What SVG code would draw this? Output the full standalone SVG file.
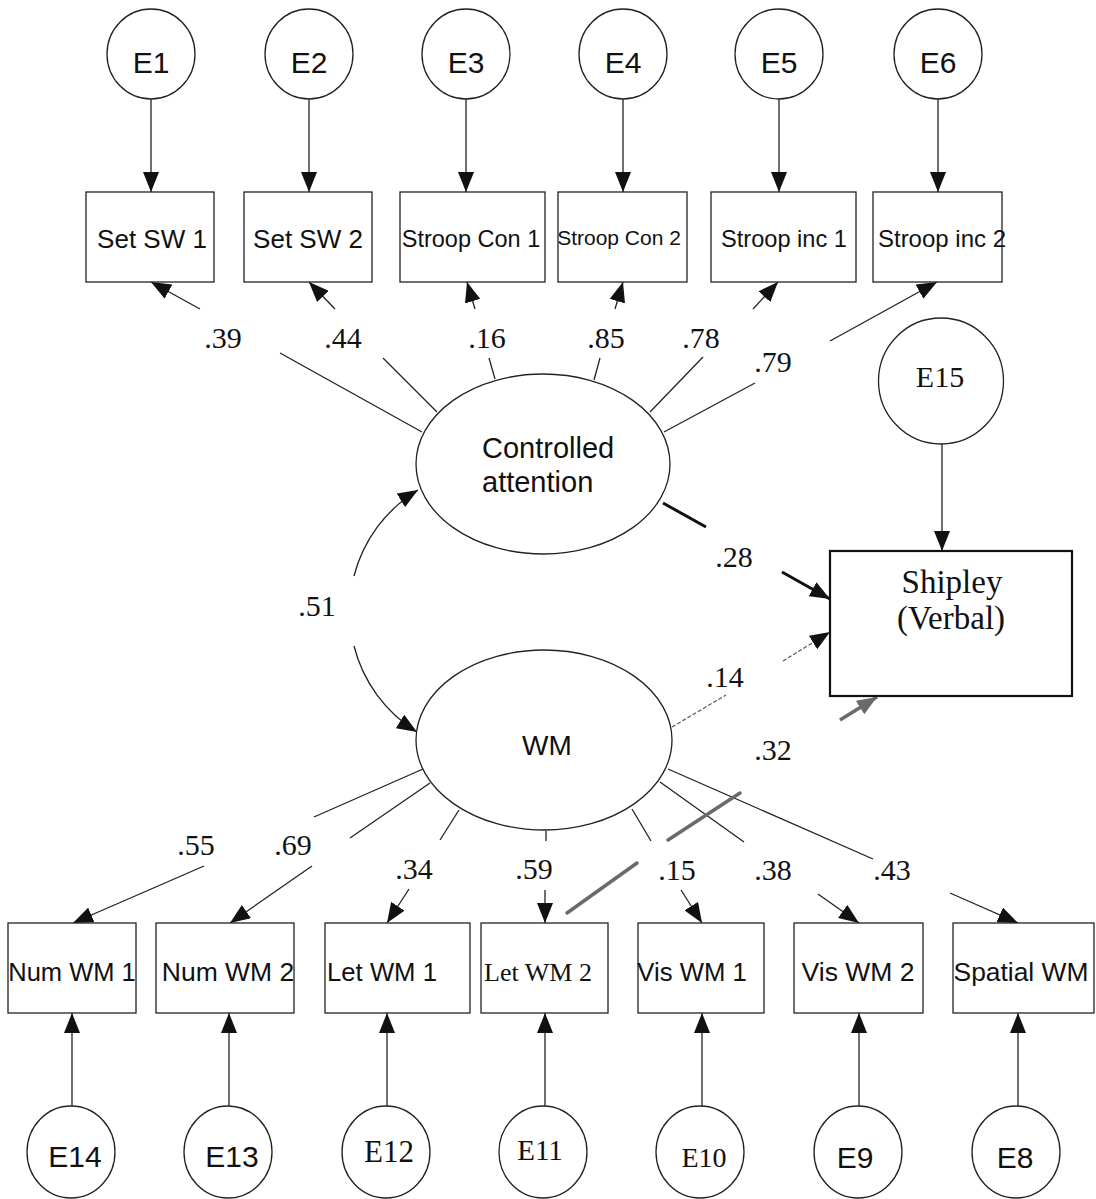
<svg xmlns="http://www.w3.org/2000/svg" width="1096" height="1199" viewBox="0 0 1096 1199">
  <style>
    .node { fill: #ffffff; stroke: #222; stroke-width: 1.3; }
    .thick { fill: #ffffff; stroke: #111; stroke-width: 2.2; }
    .ln { fill: none; stroke: #222; stroke-width: 1.3; }
    .arr { fill: none; stroke: #222; stroke-width: 1.3; marker-end: url(#ah); }
    .bold { fill: none; stroke: #111; stroke-width: 3; }
    .boldarr { fill: none; stroke: #111; stroke-width: 3; marker-end: url(#ah); }
    .dash { fill: none; stroke: #555; stroke-width: 1.2; stroke-dasharray: 4 2; }
    .dasharr { fill: none; stroke: #555; stroke-width: 1.2; stroke-dasharray: 4 2; marker-end: url(#ah); }
    .grey { fill: none; stroke: #6a6a6a; stroke-width: 3.5; stroke-linecap: round; }
    .greyarr { fill: none; stroke: #6a6a6a; stroke-width: 3.5; marker-end: url(#ahg); }
    .sans { font-family: "Liberation Sans", Arial, sans-serif; fill: #111; }
    .serif { font-family: "Liberation Serif", "Times New Roman", serif; fill: #111; }
    .mid { text-anchor: middle; }
    .lab { font-family: "Liberation Serif", "Times New Roman", serif; font-size: 30px; fill: #111; text-anchor: middle; }
  </style>
  <defs>
    <marker id="ah" markerUnits="userSpaceOnUse" markerWidth="20" markerHeight="16" viewBox="0 0 20 16" refX="20" refY="8" orient="auto">
      <path d="M0,0 L20,8 L0,16 Z" fill="#111"/>
    </marker>
    <marker id="ahg" markerUnits="userSpaceOnUse" markerWidth="20" markerHeight="16" viewBox="0 0 20 16" refX="20" refY="8" orient="auto">
      <path d="M0,0 L20,8 L0,16 Z" fill="#6a6a6a"/>
    </marker>
  </defs>

  <rect x="0" y="0" width="1096" height="1199" fill="#ffffff"/>

  <!-- connectors -->
  <g id="connectors">
    <!-- error terms to top indicators -->
    <line class="arr" x1="151" y1="99" x2="151" y2="192"/>
    <line class="arr" x1="309" y1="99" x2="309" y2="192"/>
    <line class="arr" x1="466" y1="99" x2="466" y2="192"/>
    <line class="arr" x1="623" y1="99" x2="623" y2="192"/>
    <line class="arr" x1="779" y1="99" x2="779" y2="192"/>
    <line class="arr" x1="938" y1="99" x2="938" y2="192"/>

    <!-- controlled attention loadings -->
    <line class="ln" x1="422" y1="432" x2="280" y2="353"/>
    <line class="arr" x1="200" y1="309" x2="151" y2="282"/>
    <line class="ln" x1="437" y1="412" x2="383" y2="358"/>
    <line class="arr" x1="335" y1="309" x2="309" y2="282"/>
    <line class="ln" x1="495" y1="379" x2="489" y2="358"/>
    <line class="arr" x1="475" y1="309" x2="467" y2="282"/>
    <line class="ln" x1="594" y1="380" x2="600" y2="358"/>
    <line class="arr" x1="615" y1="309" x2="623" y2="282"/>
    <line class="ln" x1="650" y1="412" x2="703" y2="357"/>
    <line class="arr" x1="753" y1="309" x2="778" y2="282"/>
    <line class="ln" x1="664" y1="432" x2="755" y2="383"/>
    <line class="arr" x1="830" y1="341" x2="937" y2="282"/>

    <!-- covariance between factors -->
    <path class="arr" d="M354,576 A142,142 0 0 1 418,490"/>
    <path class="arr" d="M354,646 A142,142 0 0 0 417,732"/>

    <!-- structural paths to Shipley -->
    <line class="bold" x1="663" y1="503" x2="706" y2="527"/>
    <line class="boldarr" x1="782" y1="572" x2="830" y2="599"/>
    <line class="dash" x1="672" y1="727" x2="726" y2="695"/>
    <line class="dasharr" x1="783" y1="661" x2="830" y2="632"/>
    <line class="greyarr" x1="840" y1="720" x2="877" y2="697"/>
    <line class="arr" x1="942" y1="444" x2="942" y2="551"/>

    <!-- WM loadings -->
    <line class="ln" x1="423" y1="769" x2="314" y2="817"/>
    <line class="arr" x1="204" y1="866" x2="73" y2="923"/>
    <line class="ln" x1="430" y1="783" x2="350" y2="838"/>
    <line class="arr" x1="312" y1="866" x2="230" y2="923"/>
    <line class="ln" x1="459" y1="810" x2="440" y2="840"/>
    <line class="arr" x1="409" y1="889" x2="387" y2="923"/>
    <line class="ln" x1="546" y1="831" x2="546" y2="841"/>
    <line class="arr" x1="545" y1="890" x2="545" y2="923"/>
    <line class="ln" x1="632" y1="809" x2="651" y2="841"/>
    <line class="arr" x1="681" y1="890" x2="702" y2="923"/>
    <line class="ln" x1="660" y1="782" x2="744" y2="842"/>
    <line class="arr" x1="818" y1="894" x2="859" y2="923"/>
    <line class="ln" x1="668" y1="769" x2="873" y2="859"/>
    <line class="arr" x1="950" y1="893" x2="1018" y2="923"/>

    <!-- grey strokes across the WM loadings -->
    <line class="grey" x1="668" y1="840" x2="740" y2="793"/>
    <line class="grey" x1="567" y1="913" x2="637" y2="863"/>

    <!-- error terms to bottom indicators -->
    <line class="arr" x1="72" y1="1106" x2="72" y2="1013"/>
    <line class="arr" x1="229" y1="1106" x2="229" y2="1013"/>
    <line class="arr" x1="387" y1="1106" x2="387" y2="1013"/>
    <line class="arr" x1="545" y1="1106" x2="545" y2="1013"/>
    <line class="arr" x1="702" y1="1106" x2="702" y2="1013"/>
    <line class="arr" x1="859" y1="1106" x2="859" y2="1013"/>
    <line class="arr" x1="1018" y1="1106" x2="1018" y2="1013"/>
  </g>

  <!-- path coefficients -->
  <g id="coefficients">
    <text class="lab" x="223" y="348">.39</text>
    <text class="lab" x="343" y="348">.44</text>
    <text class="lab" x="487" y="348">.16</text>
    <text class="lab" x="606" y="348">.85</text>
    <text class="lab" x="701" y="348">.78</text>
    <text class="lab" x="773" y="372">.79</text>
    <text class="lab" x="317" y="616">.51</text>
    <text class="lab" x="734" y="567">.28</text>
    <text class="lab" x="725" y="687">.14</text>
    <text class="lab" x="773" y="760" fill="#333">.32</text>
    <text class="lab" x="196" y="855">.55</text>
    <text class="lab" x="293" y="855">.69</text>
    <text class="lab" x="414" y="879">.34</text>
    <text class="lab" x="534" y="879">.59</text>
    <text class="lab" x="677" y="880">.15</text>
    <text class="lab" x="773" y="880">.38</text>
    <text class="lab" x="892" y="880">.43</text>
  </g>

  <!-- top error terms -->
  <g id="E1"><ellipse class="node" cx="151" cy="54" rx="44" ry="45"/><text class="sans mid" x="151" y="73" font-size="30">E1</text></g>
  <g id="E2"><ellipse class="node" cx="309" cy="54" rx="44" ry="45"/><text class="sans mid" x="309" y="73" font-size="30">E2</text></g>
  <g id="E3"><ellipse class="node" cx="466" cy="54" rx="44" ry="45"/><text class="sans mid" x="466" y="73" font-size="30">E3</text></g>
  <g id="E4"><ellipse class="node" cx="623" cy="54" rx="44" ry="45"/><text class="sans mid" x="623" y="73" font-size="30">E4</text></g>
  <g id="E5"><ellipse class="node" cx="779" cy="54" rx="44" ry="45"/><text class="sans mid" x="779" y="73" font-size="30">E5</text></g>
  <g id="E6"><ellipse class="node" cx="938" cy="54" rx="44" ry="45"/><text class="sans mid" x="938" y="73" font-size="30">E6</text></g>

  <!-- top indicators -->
  <g id="SetSW1"><rect class="node" x="86" y="192" width="128" height="90"/><text class="sans mid" x="152" y="248" font-size="26">Set SW 1</text></g>
  <g id="SetSW2"><rect class="node" x="244" y="192" width="128" height="90"/><text class="sans mid" x="308" y="248" font-size="26">Set SW 2</text></g>
  <g id="StroopCon1"><rect class="node" x="400" y="192" width="145" height="90"/><text class="sans mid" x="471" y="247" font-size="23.5">Stroop Con 1</text></g>
  <g id="StroopCon2"><rect class="node" x="558" y="192" width="129" height="90"/><text class="sans mid" x="619" y="245" font-size="21">Stroop Con 2</text></g>
  <g id="StroopInc1"><rect class="node" x="711" y="192" width="145" height="90"/><text class="sans mid" x="784" y="247" font-size="23.6">Stroop inc 1</text></g>
  <g id="StroopInc2"><rect class="node" x="873" y="192" width="129" height="90"/><text class="sans mid" x="942" y="247" font-size="24">Stroop inc 2</text></g>

  <!-- latent factors -->
  <g id="ControlledAttention">
    <ellipse class="node" cx="543" cy="464" rx="127" ry="90"/>
    <text class="sans" x="482" y="458" font-size="29">Controlled</text>
    <text class="sans" x="482" y="492" font-size="29">attention</text>
  </g>
  <g id="WM">
    <ellipse class="node" cx="544" cy="740" rx="128" ry="90"/>
    <text class="sans mid" x="547" y="755" font-size="28">WM</text>
  </g>

  <!-- outcome -->
  <g id="E15"><ellipse class="node" cx="941" cy="381" rx="62.5" ry="63"/><text class="serif mid" x="940" y="387" font-size="30">E15</text></g>
  <g id="Shipley">
    <rect class="thick" x="830" y="551" width="242" height="145"/>
    <text class="serif mid" x="952" y="593" font-size="33">Shipley</text>
    <text class="serif mid" x="951" y="629" font-size="33">(Verbal)</text>
  </g>

  <!-- bottom indicators -->
  <g id="NumWM1"><rect class="node" x="8" y="923" width="128" height="90"/><text class="sans mid" x="72" y="981" font-size="25.5">Num WM 1</text></g>
  <g id="NumWM2"><rect class="node" x="156" y="923" width="138" height="90"/><text class="sans mid" x="228" y="981" font-size="26.5">Num WM 2</text></g>
  <g id="LetWM1"><rect class="node" x="325" y="923" width="145" height="90"/><text class="sans mid" x="382" y="981" font-size="25.7">Let WM 1</text></g>
  <g id="LetWM2"><rect class="node" x="481" y="923" width="127" height="90"/><text class="serif mid" x="538" y="981" font-size="26">Let WM 2</text></g>
  <g id="VisWM1"><rect class="node" x="638" y="923" width="126" height="90"/><text class="sans mid" x="692" y="981" font-size="25.7">Vis WM 1</text></g>
  <g id="VisWM2"><rect class="node" x="794" y="923" width="129" height="90"/><text class="sans mid" x="858" y="981" font-size="26.5">Vis WM 2</text></g>
  <g id="SpatialWM"><rect class="node" x="953" y="923" width="141" height="90"/><text class="sans mid" x="1021" y="981" font-size="26.4">Spatial WM</text></g>

  <!-- bottom error terms -->
  <g id="E14"><ellipse class="node" cx="71" cy="1152" rx="44" ry="46"/><text class="sans mid" x="75" y="1167" font-size="30">E14</text></g>
  <g id="E13"><ellipse class="node" cx="228" cy="1152" rx="44" ry="46"/><text class="sans mid" x="232" y="1167" font-size="30">E13</text></g>
  <g id="E12"><ellipse class="node" cx="386" cy="1152" rx="44" ry="46"/><text class="serif mid" x="389" y="1162" font-size="31">E12</text></g>
  <g id="E11"><ellipse class="node" cx="543" cy="1152" rx="44" ry="46"/><text class="serif mid" x="540" y="1160" font-size="29">E11</text></g>
  <g id="E10"><ellipse class="node" cx="700" cy="1152" rx="44" ry="46"/><text class="serif mid" x="704" y="1167" font-size="28">E10</text></g>
  <g id="E9"><ellipse class="node" cx="858" cy="1152" rx="44" ry="46"/><text class="sans mid" x="855" y="1168" font-size="30">E9</text></g>
  <g id="E8"><ellipse class="node" cx="1016" cy="1152" rx="44" ry="46"/><text class="sans mid" x="1015" y="1168" font-size="30">E8</text></g>
</svg>
